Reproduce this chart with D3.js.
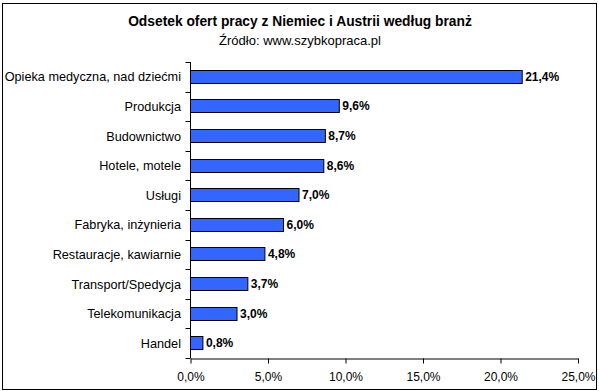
<!DOCTYPE html>
<html><head><meta charset="utf-8">
<script src="https://cdn.jsdelivr.net/npm/d3@7"></script>
<style>body{margin:0;background:#fff;}svg{display:block;font-family:"Liberation Sans",Arial,sans-serif;}</style>
</head><body><svg id="c" width="599" height="391"></svg>
<script>
const categories = ["Opieka medyczna, nad dziećmi","Produkcja","Budownictwo","Hotele, motele","Usługi","Fabryka, inżynieria","Restauracje, kawiarnie","Transport/Spedycja","Telekomunikacja","Handel"];
const values = [21.4, 9.6, 8.7, 8.6, 7.0, 6.0, 4.8, 3.7, 3.0, 0.8];
const tickValues = [0, 5, 10, 15, 20, 25];
const title = "Odsetek ofert pracy z Niemiec i Austrii według branż";
const subtitle = "Źródło: www.szybkopraca.pl";

const svg = d3.select("#c");
const fmt = v => v.toFixed(1).replace(".", ",") + "%";
svg.append("rect").attr("x",2.5).attr("y",3.5).attr("width",594).attr("height",386).attr("fill","#fff").attr("stroke","#000").attr("stroke-width",1);

svg.append("text").attr("x",300).attr("y",26).attr("text-anchor","middle").attr("font-size",13.8).attr("font-weight","bold").text(title);
svg.append("text").attr("x",300).attr("y",45).attr("text-anchor","middle").attr("font-size",13).text(subtitle);

const x = d3.scaleLinear().domain([0,25]).range([190.5,578]);
const yb = d3.scaleBand().domain(categories).range([62,358]);

const g = svg.append("g");
g.selectAll("rect.bar").data(values).join("rect").attr("class","bar")
 .attr("x",x(0)).attr("y",(d,i)=>Math.round(yb(categories[i])+yb.bandwidth()/2-7)+0.5)
 .attr("width",d=>x(d)-x(0)).attr("height",13)
 .attr("fill","#3366FF").attr("stroke","#000").attr("stroke-width",1);
g.selectAll("text.val").data(values).join("text").attr("class","val")
 .attr("x",d=>x(d)+3).attr("y",(d,i)=>yb(categories[i])+yb.bandwidth()/2+4)
 .attr("font-size",12).attr("font-weight","bold").text(d=>fmt(d));

// y axis
const ya = svg.append("g").attr("transform","translate(190.5,0)");
ya.append("line").attr("y1",62).attr("y2",358).attr("stroke","#000");
const yTicks = categories.map(c=>yb(c)).concat([358]);
ya.selectAll("line.t").data(yTicks).join("line").attr("class","t").attr("x1",-5).attr("x2",0).attr("y1",d=>Math.round(d)+0.5).attr("y2",d=>Math.round(d)+0.5).attr("stroke","#000");
svg.selectAll("text.cat").data(categories).join("text").attr("class","cat")
 .attr("x",181).attr("y",d=>yb(d)+yb.bandwidth()/2+4.5).attr("text-anchor","end").attr("font-size",12.7).text(d=>d);

// x axis
const xa = svg.append("g").attr("transform","translate(0,358.5)")
 .call(d3.axisBottom(x).tickValues(tickValues).tickSize(5).tickSizeOuter(0).tickFormat(fmt).tickPadding(9));
xa.select(".domain").attr("stroke","#000");
xa.selectAll("line").attr("stroke","#000");
xa.selectAll("text").attr("font-size",12).attr("font-family","'Liberation Sans',Arial,sans-serif").attr("fill","#000");
</script></body></html>
